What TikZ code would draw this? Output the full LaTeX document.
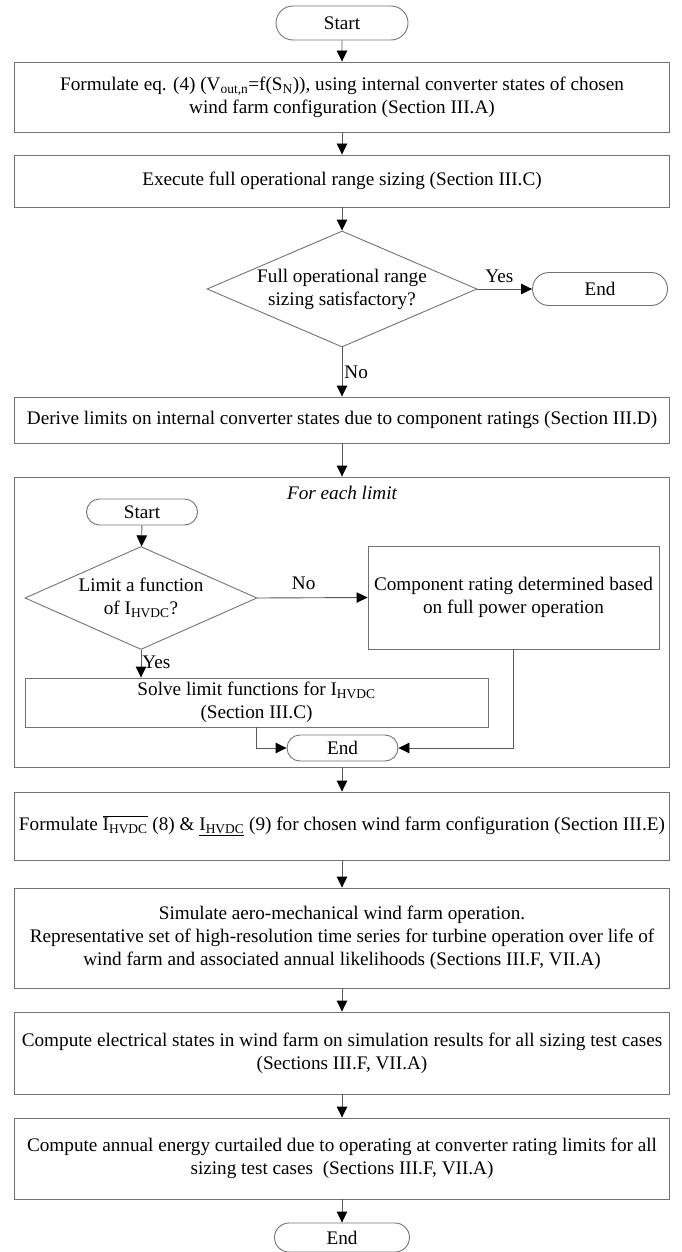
\documentclass[tikz,border=0pt]{standalone}
\usepackage{fontspec}
\setmainfont{Liberation Serif}
\usetikzlibrary{positioning, shapes.geometric, shapes.misc, arrows.meta, calc}

\tikzset{
  procbox/.style={draw=black!55, line width=0.9pt, rectangle, align=center, inner sep=3pt},
  termbox/.style={draw=black!55, line width=0.9pt, rounded rectangle, align=center, inner sep=2pt},
  decbox/.style={draw=black!55, line width=0.9pt, diamond, align=center, inner sep=0pt},
  flow/.style={draw=black!65, line width=0.9pt, -{Triangle[length=11pt, width=10.5pt, color=black]}},
  lbl/.style={inner sep=2pt},
}

\begin{document}
\begin{tikzpicture}[x=1pt, y=-1pt, font=\fontsize{19.2}{23}\selectfont] % 1pt = 1px of the page
\useasboundingbox (0,0) rectangle (682,1252);

\node[termbox, minimum width=136pt, minimum height=34pt] (start) at (342,23) {Start};
\node[procbox, minimum width=655pt, minimum height=70pt] (formeq) at (342,97)
  {Formulate eq. (4) (V\textsubscript{out,n}=f(S\textsubscript{N})), using internal converter states of chosen\\
   wind farm configuration (Section III.A)};
\node[procbox, minimum width=655pt, minimum height=52pt] (fullsize) at (342,181)
  {Execute full operational range sizing (Section III.C)};
\node[decbox, aspect=2.33, minimum width=270pt, minimum height=116pt] (fullok) at (342,289)
  {Full operational range\\ sizing satisfactory?};
\node[termbox, minimum width=139pt, minimum height=33pt] (endA) at (600,289) {End};
\node[procbox, minimum width=655pt, minimum height=46pt] (derive) at (342,420)
  {Derive limits on internal converter states due to component ratings (Section III.D)};

% loop over the limits
\node[draw=black!55, line width=0.9pt, minimum width=655pt, minimum height=290pt] (loop) at (342,622) {};
\node[font=\fontsize{19.2}{23}\selectfont\itshape] (eachlbl) at (342,493) {For each limit};
\node[termbox, minimum width=115pt, minimum height=26pt] (startB) at (142,512) {Start};
\node[decbox, aspect=2.25, minimum width=232pt, minimum height=103pt] (ishvdc) at (141,598)
  {Limit a function\\ of I\textsubscript{HVDC}?};
\node[procbox, minimum width=291pt, minimum height=103pt] (fullpow) at (513.5,597.5)
  {Component rating determined based\\ on full power operation};
\node[procbox, minimum width=463pt, minimum height=49pt] (solve) at (256.5,702.5)
  {Solve limit functions for I\textsubscript{HVDC}\\ (Section III.C)};
\node[termbox, minimum width=115pt, minimum height=26pt] (endB) at (342.5,748) {End};

\node[procbox, minimum width=655pt, minimum height=68pt] (bounds) at (342,826)
  {Formulate $\overline{\hbox{I\textsubscript{HVDC}}}$ (8) \& \underline{I\textsubscript{HVDC}} (9) for chosen wind farm configuration (Section III.E)};
\node[procbox, minimum width=655pt, minimum height=100pt] (simulate) at (342,938)
  {Simulate aero-mechanical wind farm operation.\\
   Representative set of high-resolution time series for turbine operation over life of\\
   wind farm and associated annual likelihoods (Sections III.F, VII.A)};
\node[procbox, minimum width=655pt, minimum height=82pt] (elstates) at (342,1053)
  {Compute electrical states in wind farm on simulation results for all sizing test cases\\
   (Sections III.F, VII.A)};
\node[procbox, minimum width=655pt, minimum height=81pt] (curtail) at (342,1158.5)
  {Compute annual energy curtailed due to operating at converter rating limits for all\\
   sizing test cases~~(Sections III.F, VII.A)};
\node[termbox, minimum width=139pt, minimum height=29pt] (endC) at (342,1237.5) {End};

\draw[flow] (start) -- (formeq);
\draw[flow] (formeq) -- (fullsize);
\draw[flow] (fullsize) -- (fullok);
\draw[flow] (fullok.east) -- node[lbl, above=4pt, pos=0.4] {Yes} (endA.west);
\draw[flow] (fullok.south) -- node[lbl, right, pos=0.5] {No} (derive.north);
\draw[flow] (derive) -- (loop);
\draw[flow] (startB) -- (ishvdc);
\draw[flow] (ishvdc.east) -- node[lbl, above=6pt, pos=0.42] {No} (fullpow.west);
\draw[flow] (ishvdc.south) -- node[lbl, right, inner sep=1pt, pos=0.45] {Yes} (ishvdc.south |- solve.north);
\draw[flow] (solve.south) |- (endB.west);
\draw[flow] (fullpow.south) |- (endB.east);
\draw[flow] (loop) -- (bounds);
\draw[flow] (bounds) -- (simulate);
\draw[flow] (simulate) -- (elstates);
\draw[flow] (elstates) -- (curtail);
\draw[flow] (curtail) -- (endC);

\end{tikzpicture}
\end{document}
